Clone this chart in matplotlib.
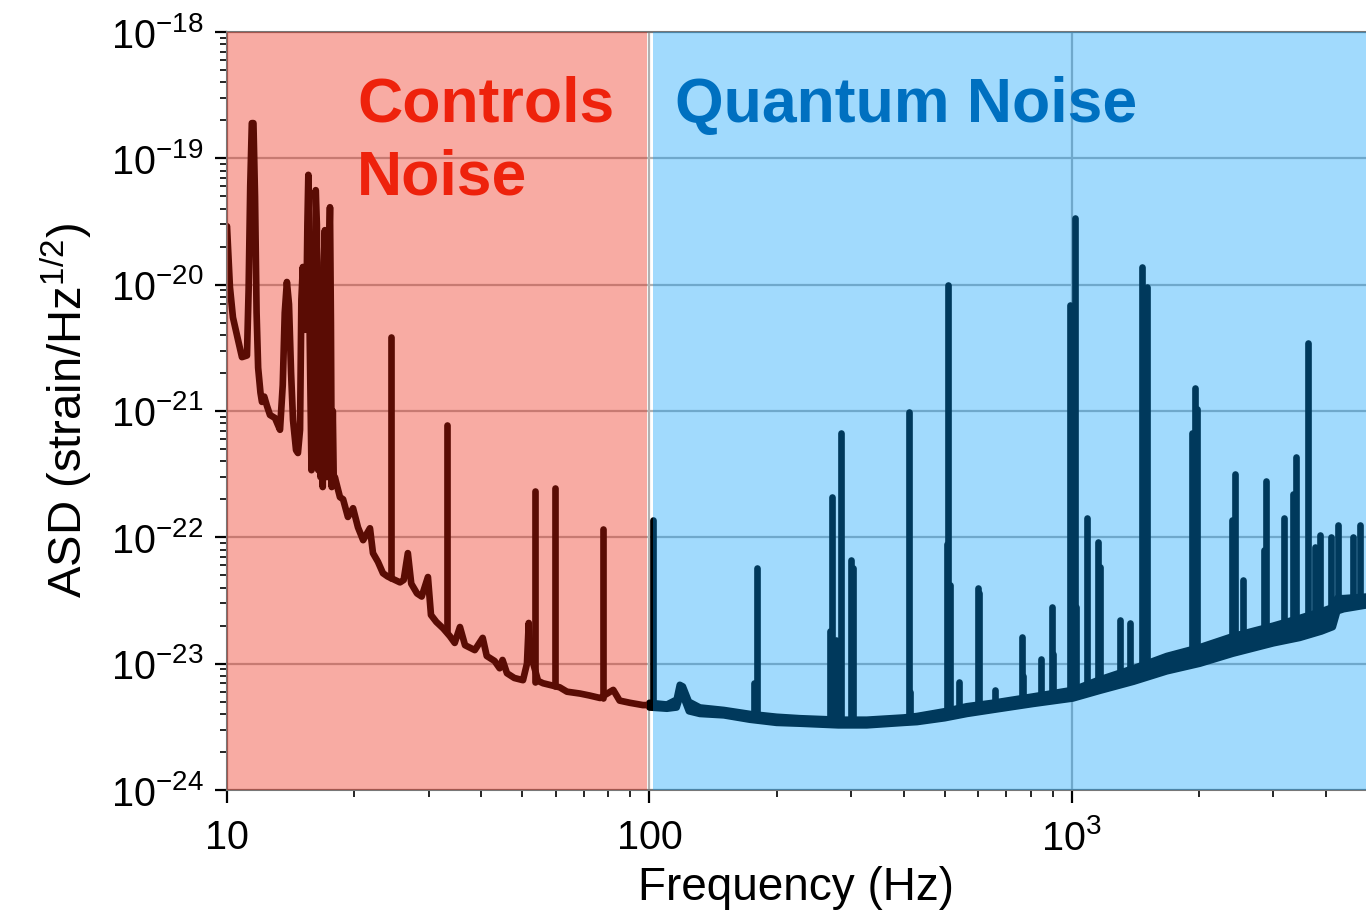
import numpy as np
import matplotlib
matplotlib.use("Agg")
import matplotlib.pyplot as plt

plt.rcParams["font.family"] = ["Liberation Sans", "DejaVu Sans"]
plt.rcParams["mathtext.fontset"] = "custom"
plt.rcParams["mathtext.rm"] = "Liberation Sans"
plt.rcParams["mathtext.it"] = "Liberation Sans:italic"
plt.rcParams["mathtext.default"] = "regular"

# low-frequency part of the spectrum (Hz, strain/rtHz), incl. the broad resonances
low_f = [10.0, 10.16, 10.33, 10.62, 10.85, 11.15, 11.25, 11.35, 11.45, 11.55, 11.65, 11.75, 11.85,
         12.0, 12.10, 12.25, 12.43, 12.64, 12.99, 13.35, 13.55, 13.7, 13.86, 14.02, 14.18, 14.33,
         14.57, 14.72, 14.89, 15.0, 15.12, 15.25, 15.39, 15.5, 15.58, 15.7, 15.85, 16.0, 16.1,
         16.22, 16.32, 16.45, 16.55, 16.65, 16.76, 16.85, 16.95, 17.05, 17.15, 17.25, 17.35,
         17.45, 17.53, 17.62, 17.7, 17.8, 17.9, 18.0, 18.51,
         18.83, 19.33, 19.88, 20.42, 21.0, 21.8, 22.16, 22.77, 23.40, 24.0, 24.97, 25.68,
         26.2, 26.8, 27.3, 28.17, 28.9, 29.9, 30.4, 31.3, 32.5, 33.7, 34.6, 35.6,
         36.6, 38.6, 40.3, 41.2, 43.0, 44.2, 44.9, 46.0, 47.9, 50.2, 51.3, 51.8,
         52.3, 54.5, 56.0, 58.0, 61.3, 63.8, 68.5, 72.1, 76.4, 82.1, 85.0, 89.9,
         96.5, 100.0]
low_asd = [2.9e-20, 9.6e-21, 5.5e-21, 3.65e-21, 2.67e-21, 2.75e-21, 9.0e-21, 6.0e-20, 1.9e-19, 1.9e-19, 5.0e-20, 6.0e-21, 2.2e-21,
           1.4e-21, 1.18e-21, 1.3e-21, 1.1e-21, 9.3e-22, 8.8e-22, 7.1e-22, 1.6e-21, 6.0e-21, 1.05e-20, 7.0e-21, 2.0e-21, 8.5e-22,
           4.9e-22, 4.65e-22, 7.1e-22, 7.6e-21, 1.38e-20, 4.4e-21, 4.4e-21, 3.0e-20, 7.4e-20, 3.65e-21, 3.4e-22, 4.4e-21, 6.0e-22,
           5.6e-20, 3.0e-20, 3.4e-22, 8.0e-21, 3.0e-22, 1.2e-20, 2.5e-22, 1.5e-20, 2.7e-20, 3.0e-22, 1.2e-20, 3.0e-22,
           2.0e-20, 4.1e-20, 5.0e-21, 2.5e-22, 1.0e-21, 2.6e-22, 3.0e-22, 2.08e-22,
           2.0e-22, 1.45e-22, 1.7e-22, 1.2e-22, 9.5e-23, 1.18e-22, 7.5e-23, 6.4e-23, 5.2e-23, 4.9e-23, 4.6e-23, 4.4e-23,
           4.6e-23, 7.5e-23, 4.3e-23, 3.6e-23, 3.4e-23, 4.85e-23, 2.43e-23, 2.14e-23, 1.9e-23, 1.65e-23, 1.46e-23, 1.95e-23,
           1.4e-23, 1.28e-23, 1.6e-23, 1.15e-23, 1.05e-23, 9.2e-24, 1.07e-23, 8.4e-24, 7.7e-24, 7.4e-24, 1.0e-23, 2.1e-23,
           1.2e-23, 7.3e-24, 7.0e-24, 6.8e-24, 6.5e-24, 6.0e-24, 5.8e-24, 5.6e-24, 5.35e-24, 6.2e-24, 5.1e-24, 4.9e-24,
           4.7e-24, 4.7e-24]

# high-frequency floor, given as lower / upper edge of the noisy band
band_f = [100, 110, 116, 118, 120, 124, 131.7, 150, 173, 200, 227, 280, 327, 400, 430,
          500, 564, 650, 809, 1005, 1165, 1400, 1678, 2009, 2405, 3000, 3464, 3900,
          4147, 4250, 4400, 5000]
band_lo = [4.5e-24, 4.4e-24, 4.5e-24, 5.4e-24, 5.6e-24, 4.2e-24, 4.0e-24, 3.9e-24, 3.6e-24, 3.4e-24,
           3.35e-24, 3.25e-24, 3.25e-24, 3.4e-24, 3.45e-24, 3.7e-24, 4.0e-24, 4.3e-24, 4.8e-24, 5.3e-24,
           6.1e-24, 7.2e-24, 8.7e-24, 1.0e-23, 1.2e-23, 1.45e-23, 1.6e-23, 1.8e-23,
           1.95e-23, 2.6e-23, 2.7e-23, 2.9e-23]
band_hi = [4.9e-24, 4.75e-24, 5.2e-24, 6.8e-24, 6.6e-24, 5.0e-24, 4.5e-24, 4.3e-24, 4.0e-24, 3.8e-24,
           3.7e-24, 3.6e-24, 3.6e-24, 3.75e-24, 3.85e-24, 4.2e-24, 4.6e-24, 4.9e-24, 5.5e-24, 6.2e-24,
           7.5e-24, 9.2e-24, 1.15e-23, 1.35e-23, 1.65e-23, 2.0e-23, 2.3e-23, 2.6e-23,
           2.8e-23, 3.3e-23, 3.3e-23, 3.4e-23]

# narrow lines: frequency, peak height, floor at the line
spike_f = [24.4, 33.2, 53.6, 59.8, 77.7,
           101.9, 177, 179.5, 268, 270, 277, 284, 300, 303, 411, 415, 505, 509, 514,
           541, 600, 604, 658, 762, 767, 845, 897, 903, 988, 1016, 1025, 1084,
           1153, 1165, 1300, 1372, 1466, 1506, 1923, 1955, 1975, 2400, 2432, 2541,
           2850, 2877, 3175, 3330, 3390, 3620, 3770, 3866, 4110, 4266, 4620, 4813]
spike_top = [3.85e-21, 7.8e-22, 2.33e-22, 2.45e-22, 1.17e-22,
             1.37e-22, 7.0e-24, 5.7e-23, 1.8e-23, 2.09e-22, 1.55e-23, 6.7e-22, 6.6e-23, 5.7e-23, 9.8e-22,
             6.0e-24, 8.9e-23, 1.0e-20, 4.2e-23, 7.1e-24, 4.0e-23, 3.6e-23, 6.2e-24, 1.62e-23, 8.0e-24,
             1.09e-23, 2.8e-23, 1.2e-23, 6.9e-21, 3.4e-20, 2.8e-23, 1.42e-22, 9.2e-23, 5.8e-23, 2.23e-23,
             2.1e-23, 1.38e-20, 9.5e-21, 6.7e-22, 1.52e-21, 1.03e-21, 1.37e-22, 3.2e-22, 4.6e-23, 8.0e-23,
             2.8e-22, 1.42e-22, 2.2e-22, 4.3e-22, 3.45e-21, 8.4e-23, 1.05e-22, 1.0e-22, 1.26e-22, 1.0e-22,
             1.26e-22]
spike_base = [4.8e-23, 1.8e-23, 7.2e-24, 6.6e-24, 5.3e-24,
              4.8e-24, 3.9e-24, 3.9e-24, 3.6e-24, 3.6e-24, 3.6e-24, 3.6e-24, 3.6e-24, 3.6e-24, 3.7e-24,
              3.7e-24, 4.1e-24, 4.1e-24, 4.1e-24, 4.3e-24, 4.7e-24, 4.7e-24, 4.9e-24, 5.3e-24, 5.3e-24,
              5.6e-24, 5.8e-24, 5.8e-24, 6.1e-24, 6.2e-24, 6.3e-24, 6.8e-24, 7.4e-24, 7.5e-24, 8.3e-24,
              8.8e-24, 9.5e-24, 9.8e-24, 1.3e-23, 1.3e-23, 1.3e-23, 1.65e-23, 1.65e-23, 1.7e-23, 1.9e-23,
              1.9e-23, 2.1e-23, 2.2e-23, 2.2e-23, 2.4e-23, 2.5e-23, 2.6e-23, 2.8e-23, 3.0e-23, 3.1e-23,
              3.2e-23]

fig = plt.figure(figsize=(13.66, 9.14), dpi=100)
ax = fig.add_axes([227 / 1366, 1 - 790 / 914, 1 - 227 / 1366, 758 / 914])
ax.set_xscale("log")
ax.set_yscale("log")
ax.set_xlim(10, 4970)
ax.set_ylim(1e-24, 1e-18)

lw = 4.8
ax.plot(low_f, low_asd, color="black", lw=lw, solid_capstyle="round", solid_joinstyle="round", zorder=2)
ax.fill_between(band_f, band_lo, band_hi, color="black", lw=0, zorder=2)
ax.plot(band_f, band_lo, color="black", lw=lw, solid_capstyle="round", zorder=2)
ax.plot(band_f, band_hi, color="black", lw=lw, solid_capstyle="round", zorder=2)
vl = ax.vlines(spike_f, spike_base, spike_top, color="black", lw=lw, zorder=2)
vl.set_capstyle("round")

# shaded regions on top of the trace
ax.axvspan(10, 98.6, color=(0.93, 0.135, 0.05), alpha=0.38, lw=0, zorder=5)
ax.axvspan(101.9, 6000, color=(0.0, 0.61, 0.98), alpha=0.37, lw=0, zorder=5)

ax.grid(True, which="major", color="#b0b0b0", lw=1.6)
ax.set_axisbelow(True)
ax.spines["right"].set_visible(False)
for s in ["left", "top", "bottom"]:
    ax.spines[s].set_color("#777777")
    ax.spines[s].set_linewidth(1.5)

ax.set_xticks([10, 100, 1000], labels=["10", "100", r"$10^3$"])
ax.set_yticks([1e-18, 1e-19, 1e-20, 1e-21, 1e-22, 1e-23, 1e-24])
ax.tick_params(which="major", direction="out", length=9, width=1.6, labelsize=28.5, pad=8)
ax.tick_params(which="minor", direction="out", length=5, width=1.2)
ax.tick_params(axis="x", which="major", pad=12)

ax.set_xlabel("Frequency (Hz)", fontsize=33, labelpad=6)
ax.set_ylabel(r"ASD (strain/Hz$^{1/2}$)", fontsize=34, labelpad=12)

ax.text(20.3, 10 ** -18.712, "Controls", color="#ee220c", fontsize=45, fontweight="bold",
        ha="left", va="baseline", zorder=6)
ax.text(20.3, 10 ** -19.29, "Noise", color="#ee220c", fontsize=45, fontweight="bold",
        ha="left", va="baseline", zorder=6)
ax.text(114.9, 10 ** -18.712, "Quantum Noise", color="#0070c0", fontsize=45, fontweight="bold",
        ha="left", va="baseline", zorder=6)

fig.savefig("out.png", dpi=100)
